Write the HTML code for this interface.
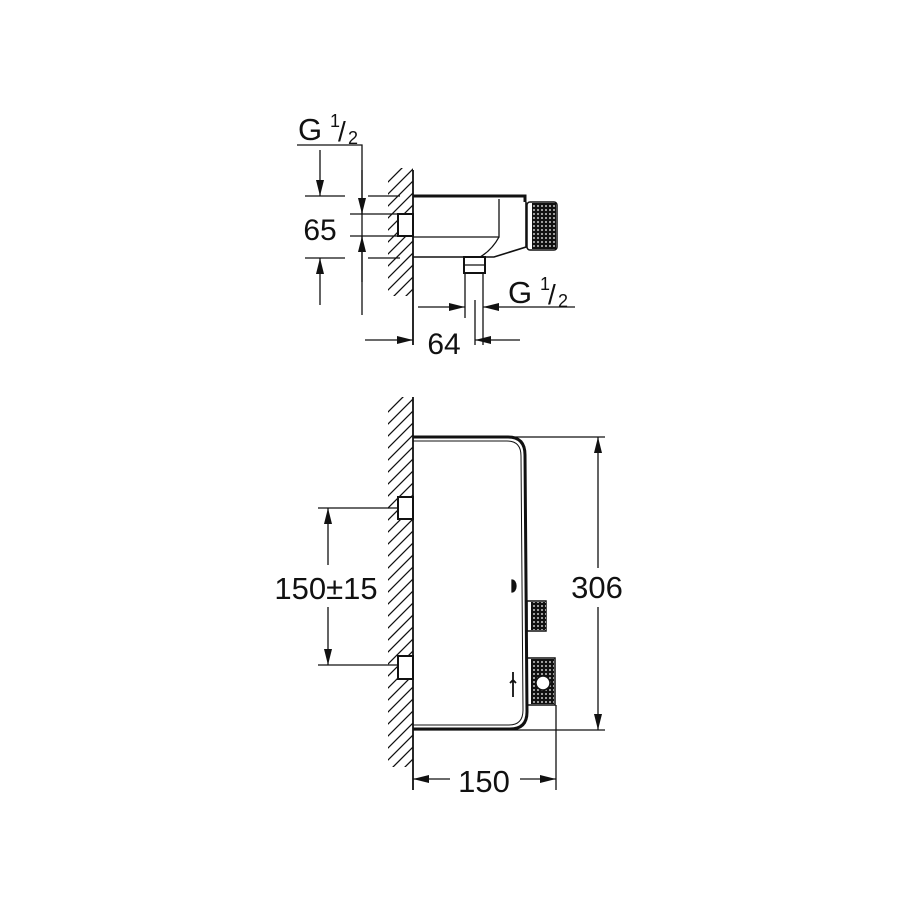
<!DOCTYPE html>
<html><head><meta charset="utf-8"><style>
html,body{margin:0;padding:0;background:#fff}
svg{display:block}
text{font-family:"Liberation Sans",sans-serif;fill:#111}
</style></head><body>
<svg width="900" height="900" viewBox="0 0 900 900" xmlns="http://www.w3.org/2000/svg">
<defs>
<pattern id="kn" width="4" height="4" patternUnits="userSpaceOnUse">
<rect width="4" height="4" fill="#111"/><circle cx="2" cy="2" r="0.9" fill="#fff"/>
</pattern>
<clipPath id="w1"><rect x="388" y="168" width="25" height="128"/></clipPath>
<clipPath id="w2"><rect x="388" y="397" width="25" height="370"/></clipPath>
<marker id="a" viewBox="0 0 16 10" refX="16" refY="5" markerWidth="16" markerHeight="10" markerUnits="userSpaceOnUse" orient="auto-start-reverse">
<path d="M0,1 L16,5 L0,9 Z" fill="#111"/></marker>
</defs>
<g stroke="#111" fill="none" stroke-width="1.3">
<!-- ===== TOP VIEW ===== -->
<g clip-path="url(#w1)">
<path d="M380,190 l40,-40 M380,202 l40,-40 M380,214 l40,-40 M380,226 l40,-40 M380,238 l40,-40 M380,250 l40,-40 M380,262 l40,-40 M380,274 l40,-40 M380,286 l40,-40 M380,298 l40,-40 M380,310 l40,-40 M380,322 l40,-40"/>
</g>
<line x1="413" y1="170" x2="413" y2="345" stroke-width="1.8"/>
<rect x="398" y="214" width="15" height="22" fill="#fff" stroke-width="2"/>
<path d="M413,196 H525 V202" stroke-width="3"/>
<path d="M526,202 V247 L494,257 H413" stroke-width="1.6"/>
<path d="M413,237 H499 V199 M499,237 Q492,250 480,257"/>
<rect x="527" y="202" width="30" height="48" rx="3" stroke-width="1.5"/>
<rect x="532" y="203" width="24" height="46" fill="url(#kn)" stroke="none"/>
<rect x="464" y="257" width="21" height="16" stroke-width="2"/>
<line x1="464" y1="265" x2="485" y2="265"/>
<line x1="465" y1="273" x2="465" y2="318"/>
<line x1="483" y1="273" x2="483" y2="345"/>
<!-- dims top -->
<path d="M297,145 H362 V315"/>
<line x1="320" y1="150" x2="320" y2="196" marker-end="url(#a)"/>
<line x1="320" y1="305" x2="320" y2="258" marker-end="url(#a)"/>
<line x1="362" y1="170" x2="362" y2="214" marker-end="url(#a)"/>
<line x1="362" y1="282" x2="362" y2="236" marker-end="url(#a)"/>
<path d="M305,196 H345 M368,196 H400 M350,214 H398 M350,236 H398 M305,258 H345 M368,258 H400"/>
<line x1="418" y1="307" x2="465" y2="307" marker-end="url(#a)"/>
<line x1="575" y1="307" x2="483" y2="307" marker-end="url(#a)"/>
<line x1="365" y1="340" x2="413" y2="340" marker-end="url(#a)"/>
<line x1="520" y1="340" x2="475" y2="340" marker-end="url(#a)"/>
<line x1="475" y1="300" x2="475" y2="345"/>
<!-- ===== FRONT VIEW ===== -->
<g clip-path="url(#w2)">
<path d="M380,420 l40,-40 M380,432 l40,-40 M380,444 l40,-40 M380,456 l40,-40 M380,468 l40,-40 M380,480 l40,-40 M380,492 l40,-40 M380,504 l40,-40 M380,516 l40,-40 M380,528 l40,-40 M380,540 l40,-40 M380,552 l40,-40 M380,564 l40,-40 M380,576 l40,-40 M380,588 l40,-40 M380,600 l40,-40 M380,612 l40,-40 M380,624 l40,-40 M380,636 l40,-40 M380,648 l40,-40 M380,660 l40,-40 M380,672 l40,-40 M380,684 l40,-40 M380,696 l40,-40 M380,708 l40,-40 M380,720 l40,-40 M380,732 l40,-40 M380,744 l40,-40 M380,756 l40,-40 M380,768 l40,-40 M380,780 l40,-40 M380,792 l40,-40 M380,804 l40,-40"/>
</g>
<line x1="413" y1="397" x2="413" y2="790" stroke-width="1.8"/>
<rect x="398" y="497" width="15" height="22" fill="#fff" stroke-width="2"/>
<rect x="398" y="656" width="15" height="23" fill="#fff" stroke-width="2"/>
<path d="M413,437 H508 Q525,437 525,455 L527,712 Q527,729 510,729 H413" stroke-width="3"/>
<path d="M413,441 H507 Q521,441 521,456 L523,710 Q523,725 509,725 H413" stroke-width="1"/>
<path d="M512,580 a4,6 0 0 1 0,12 Z" fill="#111"/>
<path d="M513,672 V697 M510,683 l3,-3 l3,3" stroke-width="1.8"/>
<rect x="527" y="601" width="19" height="30" stroke-width="1.5"/>
<rect x="531" y="602" width="15" height="28" fill="url(#kn)" stroke="none"/>
<rect x="527" y="658" width="28" height="47" stroke-width="1.5"/>
<rect x="531" y="659" width="23" height="45" fill="url(#kn)" stroke="none"/>
<circle cx="543" cy="683" r="7" fill="#fff" stroke-width="1.5"/>
<!-- dims front -->
<path d="M513,437 H605 M413,730 H605"/>
<line x1="598" y1="568" x2="598" y2="437" marker-end="url(#a)"/>
<line x1="598" y1="607" x2="598" y2="730" marker-end="url(#a)"/>
<path d="M318,508 H398 M318,665 H398"/>
<line x1="328" y1="565" x2="328" y2="508" marker-end="url(#a)"/>
<line x1="328" y1="607" x2="328" y2="665" marker-end="url(#a)"/>
<line x1="556" y1="705" x2="556" y2="790"/>
<line x1="450" y1="779" x2="413" y2="779" marker-end="url(#a)"/>
<line x1="520" y1="779" x2="556" y2="779" marker-end="url(#a)"/>
</g>
<text x="298" y="140" font-size="31">G</text>
<text x="330" y="127" font-size="18">1</text>
<text x="338" y="141" font-size="28">/</text>
<text x="348" y="144" font-size="18">2</text>
<text x="320" y="240" font-size="30" text-anchor="middle">65</text>
<text x="508" y="303" font-size="31">G</text>
<text x="540" y="290" font-size="18">1</text>
<text x="548" y="304" font-size="28">/</text>
<text x="558" y="307" font-size="18">2</text>
<text x="444" y="354" font-size="30" text-anchor="middle">64</text>
<text x="597" y="598" font-size="31" text-anchor="middle">306</text>
<text x="326" y="599" font-size="31" text-anchor="middle">150±15</text>
<text x="484" y="792" font-size="31" text-anchor="middle">150</text>
</svg>
</body></html>
